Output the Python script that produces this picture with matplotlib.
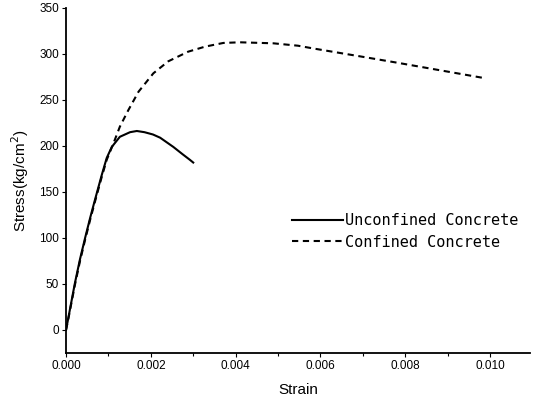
import matplotlib.pyplot as plt
from matplotlib.ticker import MultipleLocator

# values
unconf_strain = [0.0, 0.00005, 0.00021, 0.00033, 0.00045, 0.00057, 0.00068,
                 0.00084, 0.00096, 0.00108, 0.00127, 0.00151, 0.00167,
                 0.00185, 0.00205, 0.00222, 0.00253, 0.00275, 0.00292,
                 0.0030]
unconf_stress = [0, 12, 51, 77, 100, 122, 141, 168, 187, 199, 210, 215,
                 216.3, 215, 212.5, 209, 199, 191, 185, 182]

conf_strain = [0.0, 0.00005, 0.00021, 0.00033, 0.00045, 0.00057, 0.00068,
               0.00084, 0.00096, 0.00112, 0.00127, 0.00147, 0.00171,
               0.00206, 0.00241, 0.00288, 0.00328, 0.00371, 0.0041,
               0.00489, 0.00547, 0.00583, 0.00686, 0.0078, 0.00898, 0.0099]
conf_stress = [0, 11, 49, 75, 98, 120, 139, 166, 185, 203, 221, 239, 259,
               279, 292, 302.5, 308, 312, 312.7, 311.6, 309, 306, 298,
               290.6, 281, 273.5]

x_ticks = [0.000, 0.002, 0.004, 0.006, 0.008, 0.010]
y_ticks = [0, 50, 100, 150, 200, 250, 300, 350]

plt.rcParams['font.family'] = ['Liberation Sans', 'DejaVu Sans']

fig = plt.figure(figsize=(5.38, 3.99), dpi=100)
ax = fig.add_axes([0.1227, 0.1153, 0.8623, 0.8647])

ax.plot(unconf_strain, unconf_stress, color='black', lw=1.5,
        label='Unconfined Concrete')
ax.plot(conf_strain, conf_stress, color='black', lw=1.5,
        dashes=(3, 2.2), label='Confined Concrete')

ax.set_xlim(0, 0.01094)
ax.set_ylim(-25, 350)
ax.set_xticks(x_ticks)
ax.set_xticklabels(['%.3f' % v for v in x_ticks])
ax.xaxis.set_minor_locator(MultipleLocator(0.001))
ax.set_yticks(y_ticks)
ax.tick_params(axis='both', which='major', direction='out', length=3,
               width=0.8, labelsize=8.5, pad=2)
ax.tick_params(axis='x', which='minor', direction='out', length=2, width=0.8)

for side in ('top', 'right'):
    ax.spines[side].set_visible(False)
for side in ('left', 'bottom'):
    ax.spines[side].set_linewidth(1.3)

ax.set_xlabel('Strain', fontsize=11, labelpad=8)
ax.set_ylabel('Stress(kg/cm$^2$)', fontsize=11, labelpad=6)

legend = ax.legend(loc='upper left', bbox_to_anchor=(0.458, 0.446),
                   frameon=False, handlelength=3.3, handletextpad=0.15,
                   labelspacing=0.45,
                   prop={'family': 'DejaVu Sans Mono', 'size': 11})

fig.savefig('out.png', dpi=100)
